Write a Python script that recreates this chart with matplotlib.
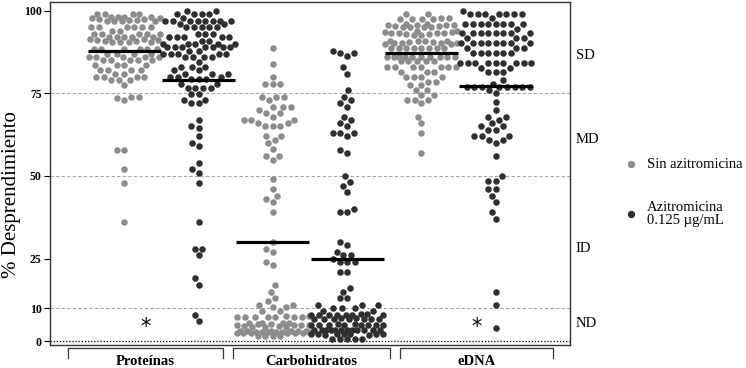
import numpy as np
import matplotlib
matplotlib.use("Agg")
import matplotlib.pyplot as plt
from matplotlib.lines import Line2D

# ---------------- data ----------------
categories = ["Proteínas", "Carbohidratos", "eDNA"]
series_names = ["Sin azitromicina", "Azitromicina\n0.125 µg/mL"]
yticks = [0, 10, 25, 50, 75, 100]
zone_labels = ["SD", "MD", "ID", "ND"]
zone_label_values = [86.4, 60.9, 27.9, 5.2]
ref_lines = [10, 50, 75]

prot_sin = [99, 99, 99, 99,
            98.3, 98.3, 98.0, 97.6, 97.2, 96.9, 96.8, 96.8, 96.9, 97.2, 97.6, 98.0, 98.3, 98.3,
            95, 95, 95, 95, 95, 95, 94, 94, 93, 93, 93, 93, 93,
            92, 92, 92, 92, 92, 91.4, 91.1, 90.8, 90.6, 90.5, 90.5, 90.6, 90.8, 91.1, 91.4,
            88.6, 88.6, 88.6, 88.6, 88.6, 88.6, 87, 87, 87, 87, 86, 86, 86, 86, 86,
            85, 85, 85, 85, 85, 83.6, 83.6, 83.6, 83.6, 82, 82, 82, 82, 81, 81,
            80, 80, 80, 80, 79, 79, 79, 77.5, 74, 74, 73.5, 73,
            58, 58, 52, 48, 36]
prot_azi = [100, 100, 99, 99, 99, 99, 98, 97, 97, 97, 97, 97, 97, 97, 97, 96, 96,
            95, 95, 95, 95, 95, 93, 93, 93, 92, 92, 92, 92, 92, 91, 91,
            90, 90, 90, 90, 90, 89, 89, 89, 89, 89, 89, 89, 88, 88,
            87, 87, 87, 87, 87, 86, 86, 86, 86, 84.5, 83, 83, 83, 82, 82,
            81, 81, 81, 80, 80, 80, 79.5, 79.5, 79.5, 78, 78,
            76.8, 76.8, 76.8, 76.8, 74.7, 74.7, 73, 73, 72, 72,
            67, 65.2, 64.5, 62, 60, 59, 54, 52, 51, 48, 36, 28, 28, 26, 19, 17, 8, 6]
carb_sin = [88.9, 83.8, 80.1, 77.8, 77.8, 77.8, 74, 74, 74, 73, 71, 71, 71, 70, 69, 69, 68,
            67, 67, 67, 66, 66, 65.2, 65.2, 65.2, 62.1, 62.1, 60.9, 59.9, 58.1, 56.1, 56.1, 54.9,
            49, 46, 44, 43, 42, 39, 30, 28, 27, 24, 23, 17, 15, 13, 12, 11, 11, 10.3, 10.3, 9, 9,
            7.5, 7.4, 7.3, 7.3, 7.2, 7.3, 7.3, 7.4, 7.5,
            5.6, 5.4, 5.2, 5.0, 4.8, 4.6, 4.4, 4.3, 4.4, 4.6, 4.8, 5.0, 5.2, 5.4, 5.6,
            3.1, 3.0, 2.9, 2.8, 2.7, 2.6, 2.5, 2.5, 2.4, 2.4, 2.5, 2.5, 2.6, 2.7, 2.8, 2.9, 3.0, 3.1,
            1.5, 1.4, 1.4, 1.5]
carb_azi = [88, 87.3, 87.3, 86.2, 83, 81, 76, 74, 73, 72, 71, 68, 67, 66, 65, 63, 63, 63, 62,
            58, 57, 50, 48.3, 47, 45, 40, 39, 39,
            30, 29, 27, 26, 26, 25, 24, 24, 24, 21, 21, 16, 15, 13, 13,
            11, 11, 11, 10, 10, 10, 9.2, 9.2,
            8.1, 8.0, 8.0, 7.9, 7.9, 8.0, 8.0, 8.1, 8.0,
            6.9, 6.8, 6.8, 6.7, 6.7, 6.8, 6.8, 6.9, 6.8,
            5.1, 5.0, 5.0, 4.9, 4.9, 5.0, 5.0, 5.1, 5.0, 4.9,
            3.4, 3.3, 3.3, 3.2, 3.2, 3.3, 3.3, 3.4, 3.3, 3.2, 3.3, 3.4,
            2.1, 2.0, 2.0, 1.9, 1.9, 2.0, 2.0, 2.1, 2.0,
            0.7, 0.6, 0.5, 0.6, 0.7]
edna_sin = [99, 99, 97.8, 97.6, 97.4, 97.4, 97.6, 97.8,
            96.0, 95.8, 95.6, 95.4, 95.2, 95.0, 95.0, 95.2, 95.4, 95.6, 95.8, 96.0,
            93.8, 93.6, 93.4, 93.2, 93.0, 92.8, 92.8, 93.0, 93.2, 93.4, 93.6, 93.8,
            91.0, 90.8, 90.6, 90.4, 90.2, 90.0, 90.0, 90.2, 90.4, 90.6, 90.8, 91.0,
            88.8, 88.8, 88.8, 88.8, 88.8, 88.8, 88.8, 88.8,
            86, 86, 86, 86, 86, 86, 86, 86, 86, 86,
            84.7, 84.7, 84.7, 84.7, 84.7, 83, 83, 83, 83, 83, 83, 83,
            81.6, 81.6, 81.6, 80, 80, 80, 80, 78.6, 78.6, 77.6, 77.6, 76, 76,
            74.5, 74.5, 73, 73, 73, 72, 68, 66, 63, 57]
edna_azi = [100, 99, 99, 99, 99, 99, 99, 99, 98,
            96, 96, 96, 96, 96, 96, 96, 96, 94.5,
            93.2, 93.2, 93.2, 93.2, 93.2, 93.2, 93.2, 93.2, 91.7, 91.7, 91.7,
            90.2, 90.2, 90.2, 90.2, 90.2, 90.2, 90.2, 90.2, 88.8, 88.8, 88.8,
            87.2, 87.2, 87.2, 87.2, 87.2, 87.2,
            84.1, 84.1, 84.1, 84.1, 84.1, 84.1, 84.1, 84.1, 84.1,
            82.7, 82.7, 81.6, 81.6, 81.6, 79, 78,
            77, 77, 77, 77, 77, 77, 77, 77, 76, 75,
            72.5, 70, 68, 68, 67, 66, 65, 65, 64, 64, 62, 62, 62, 61, 61, 60, 56,
            50, 48.6, 48.6, 46, 46, 44, 42, 39, 37, 15, 11, 4]

# mean lines (Sin, Azi) for each category
mean_sin = [88.0, 30.0, 87.4]
mean_azi = [79.0, 24.8, 77.3]

groups = [prot_sin, prot_azi, carb_sin, carb_azi, edna_sin, edna_azi]
group_means = [mean_sin[0], mean_azi[0], mean_sin[1], mean_azi[1], mean_sin[2], mean_azi[2]]

# categories marked with an asterisk (at value)
asterisk_marks = [("Proteínas", 4.2), ("eDNA", 4.2)]

# ---------------- style ----------------
W, H, DPI = 7.46, 3.68, 100
GRAY = "#8c8c8c"
DARK = "#2f2f2f"
SERIF = ["Liberation Serif", "DejaVu Serif"]
plt.rcParams["font.family"] = SERIF

fig = plt.figure(figsize=(W, H), dpi=DPI)
ax = fig.add_axes([50 / 746, 23 / 368, 520 / 746, 343 / 368])
ax.set_xlim(0, 7)
ax.set_ylim(-1.2, 102.7)

# bracket spans (x in data units) per category
bracket_spans = [(0.24, 2.33), (2.46, 4.58), (4.71, 6.77)]


def swarm(vals, xc, d=7.6, half_w=36.0):
    vals = np.asarray(vals, float)
    pts = ax.transData.transform(np.column_stack([np.full(len(vals), xc), vals]))
    cx = pts[0, 0]
    ys = pts[:, 1]
    offs = np.zeros(len(vals))
    px, py = [], []
    for i in np.argsort(ys, kind="stable"):
        y = ys[i]
        PX = np.array(px); PY = np.array(py)
        if len(PX):
            near = np.abs(PY - y) < d
            NX, NY = PX[near], PY[near]
        else:
            NX = NY = np.array([])
        cands = [0.0]
        for nx, ny in zip(NX, NY):
            dx = np.sqrt(max(d * d - (ny - y) ** 2, 0))
            cands += [nx - dx, nx + dx]
        cands = sorted(set(np.round(cands, 6)), key=lambda c: (abs(c), c))
        chosen = None
        for c in cands:
            if abs(c) > half_w + 1e-6:
                break
            if len(NX) == 0 or np.all((NX - c) ** 2 + (NY - y) ** 2 >= d * d - 1e-3):
                chosen = c
                break
        if chosen is None:
            grid = np.linspace(-half_w, half_w, 49)
            dmin = [np.min((NX - g) ** 2 + (NY - y) ** 2) for g in grid]
            chosen = grid[int(np.argmax(dmin))]
        offs[i] = chosen
        px.append(chosen); py.append(y)
    disp = np.column_stack([cx + offs, ys])
    return ax.transData.inverted().transform(disp)


for gi, vals in enumerate(groups):
    xpos = gi + 1
    color = GRAY if gi % 2 == 0 else DARK
    xy = swarm(vals, xpos)
    ax.scatter(xy[:, 0], xy[:, 1], s=22, color=color, linewidths=0, zorder=2)
    ax.hlines(group_means[gi], xpos - 0.49, xpos + 0.49, color="black", lw=2.3, zorder=3)

for v in ref_lines:
    ax.axhline(v, color="#a6a6a6", lw=0.8, ls=(0, (3, 2)), zorder=0)
ax.axhline(0, color="black", lw=0.9, ls=(0, (1, 1.5)), zorder=0)

for s in ax.spines.values():
    s.set_linewidth(1.0)
    s.set_color("#333333")
ax.set_xticks([])
ax.set_yticks(yticks)
ax.tick_params(axis="y", direction="out", length=4, width=0.8, pad=2, labelsize=8.5)
for lab in ax.get_yticklabels():
    lab.set_fontweight("bold")
ax.set_ylabel("% Desprendimiento", fontsize=15)
ax.yaxis.set_label_coords(-0.0567, 0.44)

# zone labels at right
for lab, v in zip(zone_labels, zone_label_values):
    ax.text(7.08, v, lab, fontsize=10.5, va="center", ha="left", clip_on=False)

# category brackets and labels
xt = ax.get_xaxis_transform()
for cat, (x0, x1) in zip(categories, bracket_spans):
    ax.plot([x0, x0, x1, x1], [-0.038, -0.009, -0.009, -0.038], color="#333333", lw=0.9,
            transform=xt, clip_on=False)
    ax.text((x0 + x1) / 2, -0.058, cat, transform=xt, ha="center", va="baseline",
            fontsize=10.5, fontweight="bold", clip_on=False)

# asterisks
for cat, v in asterisk_marks:
    x0, x1 = bracket_spans[categories.index(cat)]
    ax.text((x0 + x1) / 2, v, "*", ha="center", va="center", fontsize=15,
            family="DejaVu Sans", color="black")

# legend (manual)
leg_items = [(GRAY, series_names[0], 164), (DARK, series_names[1], 214)]
for col, txt, py in leg_items:
    fig.add_artist(Line2D([631 / 746], [1 - py / 368], marker="o", markersize=4.3,
                          color=col, linestyle="none", transform=fig.transFigure))
    fig.text(647 / 746, 1 - py / 368, txt, fontsize=10.5, va="center", ha="left",
             linespacing=1.05)

fig.savefig("out.png", dpi=DPI)
